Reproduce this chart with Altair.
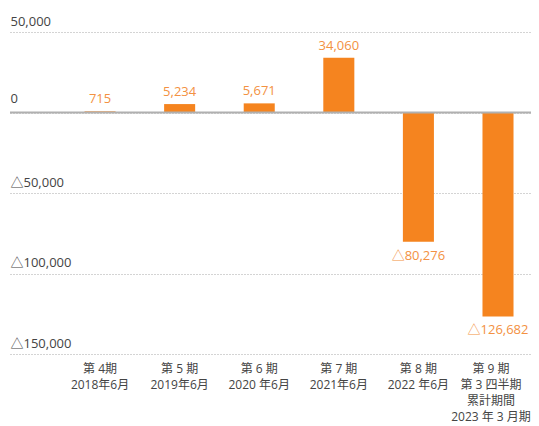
import altair as alt
import pandas as pd

categories = ["第 4期|2018年6月", "第 5 期|2019年6月", "第 6 期|2020 年6月",
              "第 7 期|2021年6月", "第 8 期|2022 年6月",
              "第 9 期|第 3 四半期|累計期間|2023 年 3 月期"]
values = [715, 5234, 5671, 34060, -80276, -126682]
y_ticks = [50000, 0, -50000, -100000, -150000]

def fmt(v):
    return ("△" + f"{-v:,}") if v < 0 else f"{v:,}"

df = pd.DataFrame({
    "cat": categories,
    "value": values,
    "label": [fmt(v) for v in values],
    "pos": [v >= 0 for v in values],
})

FONT = "Open Sans, Noto Sans CJK JP, sans-serif"
BAR = "#F5841F"
LAB = "#F39142"
DOMAIN = [-150000, 50000]

x = alt.X("cat:N", sort=None, title=None,
          scale=alt.Scale(paddingInner=0.61, paddingOuter=0.578, align=0.81),
          axis=alt.Axis(labelAngle=0, domain=False, ticks=False, labelPadding=9,
                        labelExpr="split(datum.label, '|')", labelFontSize=12,
                        labelLineHeight=16, labelColor="#444", labelFont=FONT,
                        labelBaseline="top",
                        labelOffset={"condition": {"test": "indexof(datum.value, '2023') >= 0",
                                                   "value": -7}, "value": 0}))
y = alt.Y("value:Q", title=None,
          scale=alt.Scale(domain=DOMAIN, nice=False, zero=False),
          axis=alt.Axis(values=y_ticks, domain=False, ticks=False, tickSize=0,
                        labelAlign="left", labelPadding=0, labelBaseline="alphabetic",
                        labelOffset={"condition": {"test": "datum.value === 0", "value": -10},
                                     "value": -7},
                        labelFontSize=13, labelColor="#444",
                        labelFont=FONT, grid=True, gridDash=[1, 2],
                        gridColor="#a8a8a8", gridWidth=1,
                        labelExpr="datum.value < 0 ? '△' + format(-datum.value, ',') : format(datum.value, ',')"))

base = alt.Chart(df)
bars = base.mark_bar(color=BAR).encode(x=x, y=y)
zero = alt.Chart(pd.DataFrame({"z": [0]})).mark_rule(color="#b0b0b0", strokeWidth=2).encode(
    y=alt.Y("z:Q", scale=alt.Scale(domain=DOMAIN, nice=False, zero=False)))
pos_text = base.transform_filter("datum.pos").mark_text(
    baseline="bottom", dy=-5, fontSize=13, color=LAB, font=FONT).encode(
    x=alt.X("cat:N", sort=None), y="value:Q", text="label:N")
neg_text = base.transform_filter("!datum.pos").mark_text(
    baseline="top", dy=8, fontSize=13, color=LAB, font=FONT).encode(
    x=alt.X("cat:N", sort=None), y="value:Q", text="label:N")

chart = alt.layer(bars, zero, pos_text, neg_text).properties(
    width=521, height=322,
    autosize=alt.AutoSizeParams(type="none"),
    padding={"left": 2, "top": 24, "right": 0, "bottom": 72},
).configure_view(stroke=None)

chart.save("out.html", embed_options={"renderer": "svg", "actions": False})
